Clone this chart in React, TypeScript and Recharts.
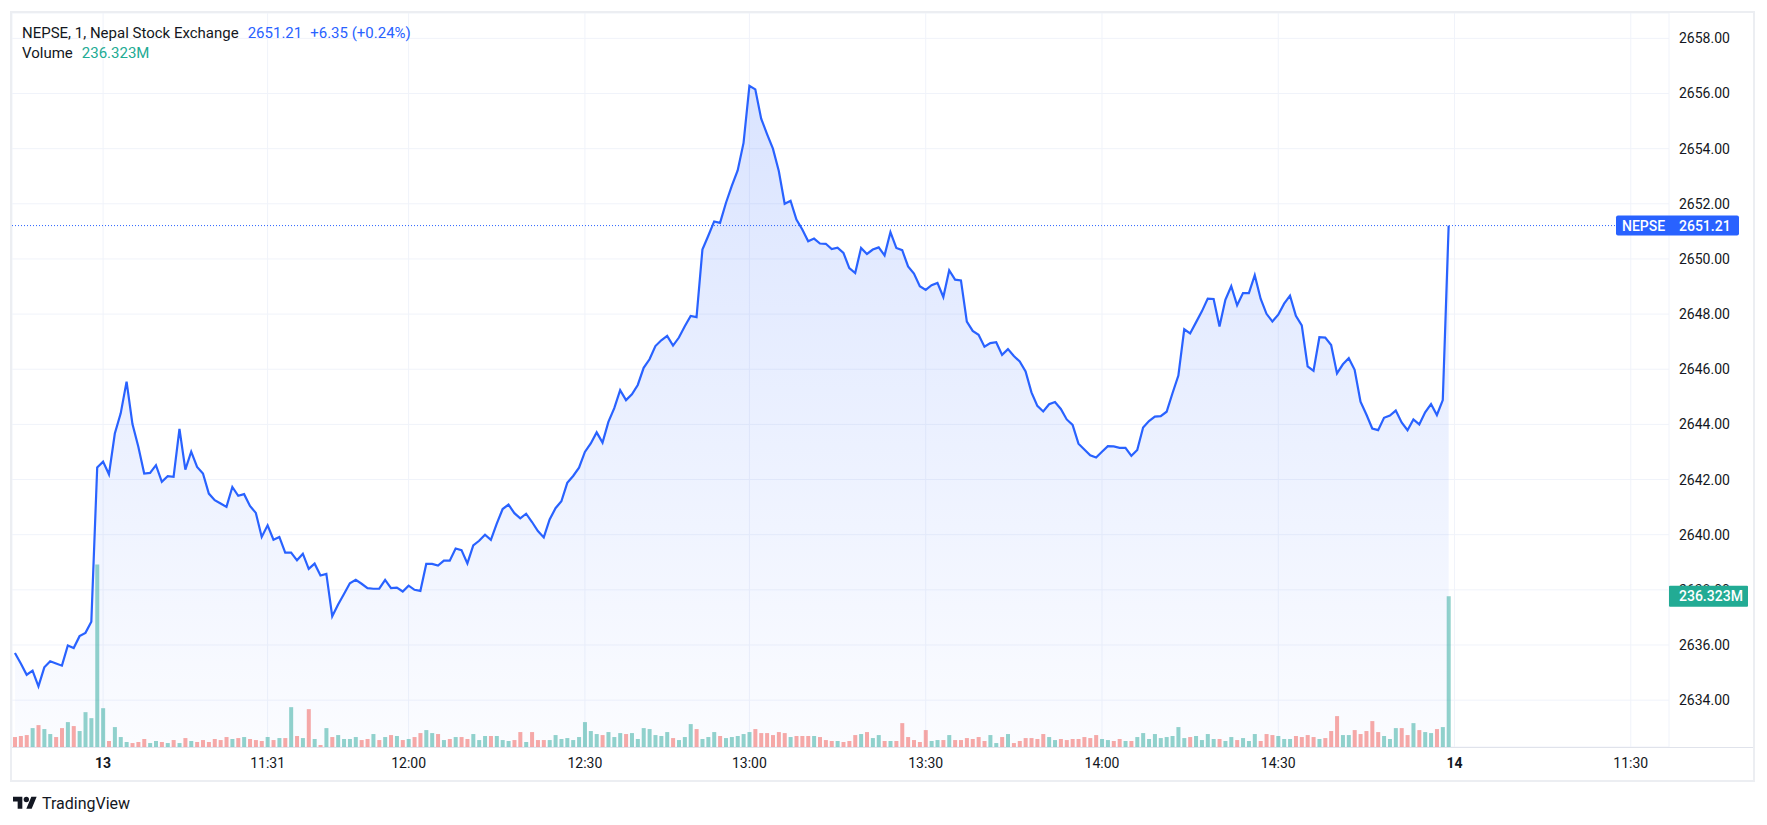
import {
  ComposedChart,
  Area,
  Bar,
  Cell,
  XAxis,
  YAxis,
  CartesianGrid,
  ReferenceLine,
} from "recharts";

// close price per 1-minute bar (last 15 bars of the 12th, then the 13th)
const prices = [
  2635.71, 2635.33, 2634.92, 2635.07, 2634.5, 2635.19, 2635.41, 2635.33, 2635.25, 2635.98,
  2635.89, 2636.32, 2636.44, 2636.84, 2642.44, 2642.65, 2642.19, 2643.67, 2644.4, 2645.55,
  2644.01, 2643.19, 2642.22, 2642.24, 2642.52, 2641.92, 2642.12, 2642.1, 2643.84, 2642.36,
  2643.01, 2642.46, 2642.22, 2641.49, 2641.25, 2641.13, 2641.01, 2641.73, 2641.41, 2641.47,
  2641.04, 2640.79, 2639.92, 2640.34, 2639.82, 2639.92, 2639.35, 2639.35, 2639.07, 2639.31,
  2638.76, 2638.95, 2638.52, 2638.58, 2637.04, 2637.47, 2637.85, 2638.24, 2638.36, 2638.22,
  2638.06, 2638.04, 2638.04, 2638.36, 2638.06, 2638.08, 2637.94, 2638.15, 2638.0, 2637.96,
  2638.94, 2638.94, 2638.88, 2639.06, 2639.06, 2639.5, 2639.44, 2638.96, 2639.61, 2639.78,
  2640.0, 2639.81, 2640.4, 2640.93, 2641.09, 2640.78, 2640.59, 2640.76, 2640.46, 2640.13,
  2639.9, 2640.55, 2640.96, 2641.21, 2641.88, 2642.13, 2642.43, 2643.0, 2643.31, 2643.71,
  2643.34, 2644.09, 2644.59, 2645.24, 2644.88, 2645.09, 2645.43, 2646.05, 2646.36, 2646.84,
  2647.05, 2647.21, 2646.86, 2647.15, 2647.56, 2647.93, 2647.89, 2650.34, 2650.84, 2651.36,
  2651.31, 2652.03, 2652.65, 2653.21, 2654.21, 2656.28, 2656.15, 2655.09, 2654.53, 2654.0,
  2653.19, 2652.0, 2652.11, 2651.43, 2651.07, 2650.64, 2650.74, 2650.56, 2650.55, 2650.36,
  2650.41, 2650.22, 2649.67, 2649.49, 2650.4, 2650.18, 2650.34, 2650.42, 2650.13, 2650.97,
  2650.4, 2650.32, 2649.73, 2649.47, 2649.01, 2648.88, 2649.05, 2649.13, 2648.62, 2649.59,
  2649.25, 2649.22, 2647.73, 2647.39, 2647.25, 2646.82, 2646.95, 2646.98, 2646.52, 2646.73,
  2646.48, 2646.28, 2645.92, 2645.16, 2644.67, 2644.47, 2644.73, 2644.81, 2644.56, 2644.18,
  2643.98, 2643.3, 2643.09, 2642.88, 2642.8, 2643.01, 2643.21, 2643.2, 2643.15, 2643.15,
  2642.86, 2643.07, 2643.89, 2644.12, 2644.28, 2644.3, 2644.46, 2645.13, 2645.77, 2647.45,
  2647.3, 2647.7, 2648.1, 2648.56, 2648.55, 2647.55, 2648.52, 2649.01, 2648.32, 2648.76,
  2648.76, 2649.41, 2648.56, 2648.01, 2647.73, 2647.98, 2648.38, 2648.67, 2647.94, 2647.59,
  2646.1, 2645.94, 2647.16, 2647.15, 2646.88, 2645.85, 2646.18, 2646.4, 2645.98, 2644.82,
  2644.36, 2643.85, 2643.79, 2644.24, 2644.32, 2644.5, 2644.07, 2643.79, 2644.18, 2644.0,
  2644.44, 2644.74, 2644.34, 2644.88, 2651.21,
];

// volume per bar, millions
const volumes = [
  15.6, 17.2, 18.7, 29.6, 34.3, 28.1, 20.3, 15.6, 29.6, 39.0,
  32.8, 25.0, 54.6, 45.2, 286.0, 60.8, 9.4, 31.2, 15.6, 7.8,
  6.2, 7.8, 12.5, 6.2, 9.4, 7.8, 6.2, 10.9, 6.2, 14.0,
  9.4, 7.8, 10.9, 7.8, 12.5, 10.9, 15.6, 12.5, 14.0, 15.6,
  12.5, 10.9, 9.4, 15.6, 10.9, 14.0, 14.0, 62.4, 17.2, 14.0,
  59.3, 12.5, 3.1, 29.6, 15.6, 18.7, 12.5, 12.5, 15.6, 10.9,
  12.5, 20.3, 10.9, 15.6, 18.7, 17.2, 10.9, 12.5, 15.6, 21.8,
  26.5, 21.8, 20.3, 10.9, 12.5, 15.6, 15.6, 12.5, 20.3, 10.9,
  17.2, 17.2, 17.2, 10.9, 9.4, 10.9, 23.4, 7.8, 23.4, 10.9,
  10.9, 10.9, 18.7, 12.5, 14.0, 10.9, 15.6, 39.0, 25.0, 20.3,
  18.7, 23.4, 15.6, 21.8, 20.3, 21.8, 12.5, 29.6, 28.1, 18.7,
  17.2, 23.4, 14.0, 10.9, 15.6, 35.9, 28.1, 12.5, 15.6, 23.4,
  17.2, 14.0, 15.6, 17.2, 20.3, 23.4, 28.1, 21.8, 21.8, 18.7,
  23.4, 21.8, 15.6, 17.2, 17.2, 17.2, 17.2, 15.6, 10.9, 9.4,
  9.4, 7.8, 9.4, 18.7, 20.3, 23.4, 14.0, 18.7, 9.4, 9.4,
  9.4, 37.4, 15.6, 10.9, 7.8, 26.5, 9.4, 10.9, 10.9, 18.7,
  10.9, 10.9, 14.0, 12.5, 15.6, 9.4, 18.7, 6.2, 15.6, 20.3,
  6.2, 9.4, 14.0, 14.0, 12.5, 20.3, 15.6, 10.9, 12.5, 10.9,
  12.5, 12.5, 15.6, 14.0, 18.7, 12.5, 10.9, 9.4, 12.5, 9.4,
  9.4, 15.6, 21.8, 12.5, 20.3, 14.0, 15.6, 17.2, 31.2, 14.0,
  15.6, 17.2, 10.9, 20.3, 12.5, 12.5, 9.4, 15.6, 10.9, 14.0,
  9.4, 20.3, 9.4, 20.3, 18.7, 17.2, 12.5, 12.5, 17.2, 15.6,
  18.7, 15.6, 12.5, 14.0, 25.0, 48.4, 18.7, 18.7, 26.5, 20.3,
  25.0, 40.6, 23.4, 17.2, 12.5, 29.6, 29.6, 18.7, 37.4, 26.5,
  23.4, 21.8, 28.1, 31.2, 236.323,
];

// g = up bar, r = down bar
const volumeSide = [
  "rrrgrggrrg", "rgggggrggg", "rrrggrgrgr", "grrrrrrgrg", "rrrgrgrgrg",
  "rgrgrggggr", "rgrgrgrgrr", "ggrgrgrrgg", "grgggrrgrr", "rggggggggg",
  "rgggrggggg", "ggrgggrggg", "rgggggrrrr", "rrgrrrgrrr", "grrrgrggrg",
  "rrrrrrggrg", "rrrrrrggrg", "rrrrrrggrr", "rrrrrggrrg", "rggggggggg",
  "rggggrggrg", "ggrrrgggrr", "rrgrrrggrr", "rrrgggrrgr", "ggrgg",
].join("");

const timeTicks = [15, 43, 67, 97, 125, 155, 185, 215, 245, 275];
const timeLabels = ["13", "11:31", "12:00", "12:30", "13:00", "13:30", "14:00", "14:30", "14", "11:30"];
const priceTicks = [2634, 2636, 2638, 2640, 2642, 2644, 2646, 2648, 2650, 2652, 2654, 2656, 2658];

const lastPrice = 2651.21;
const lastVolume = 236.323;

const data = prices.map((p, i) => ({
  i,
  price: p,
  volume: volumes[i],
  up: volumeSide[i] === "g",
}));

const FONT = "Roboto, 'Noto Sans', sans-serif";
const TEXT = "#131722";
const BLUE = "#2962ff";
const GREEN = "#22ab94";
const W = 1741;
const H = 767;
const X_DOMAIN: [number, number] = [-0.5, 281.5];
const PRICE_DOMAIN: [number, number] = [2632.3, 2658.92];
const VOL_DOMAIN: [number, number] = [0, 1150];

const TimeTick = (props: any) => {
  const { x, y, payload } = props;
  const label = timeLabels[timeTicks.indexOf(payload.value)];
  const isDay = label.length <= 2;
  return (
    <text
      x={x}
      y={y + 16}
      textAnchor="middle"
      dominantBaseline="central"
      fill={TEXT}
      fontSize={14}
      fontFamily={FONT}
      fontWeight={isDay ? 700 : 400}
    >
      {label}
    </text>
  );
};

const PriceTag = (props: any) => {
  const vb = props.viewBox;
  const right = vb.x + vb.width;
  return (
    <g>
      <rect x={right - 53} y={vb.y - 10} width={123} height={20} rx={2} fill={BLUE} />
      <text x={right - 47} y={vb.y} dominantBaseline="central" fill="#fff" fontSize={14} fontFamily={FONT} fontWeight={500}>
        NEPSE
      </text>
      <text x={right + 10} y={vb.y} dominantBaseline="central" fill="#fff" fontSize={14} fontFamily={FONT} fontWeight={500}>
        {lastPrice.toFixed(2)}
      </text>
    </g>
  );
};

const VolumeTag = (props: any) => {
  const vb = props.viewBox;
  const right = vb.x + vb.width;
  return (
    <g>
      <rect x={right} y={vb.y - 10.5} width={79} height={21} rx={1} fill={GREEN} />
      <text x={right + 10} y={vb.y} dominantBaseline="central" fill="#fff" fontSize={14} fontFamily={FONT} fontWeight={500}>
        {lastVolume.toFixed(3)}M
      </text>
    </g>
  );
};

export default function App() {
  return (
    <div style={{ position: "absolute", left: 0, top: 0, width: 1767, height: 825, background: "#fff", fontFamily: FONT }}>
      <div
        style={{
          position: "absolute",
          left: 10,
          top: 11,
          width: 1745,
          height: 771,
          border: "2px solid #eceef2",
          boxSizing: "border-box",
        }}
      >
        <ComposedChart width={W} height={H} data={data} margin={{ top: 0, right: 0, bottom: 0, left: 0 }}>
          <defs>
            <linearGradient id="areaFill" x1="0" y1="0" x2="0" y2="1">
              <stop offset="0%" stopColor={BLUE} stopOpacity={0.29} />
              <stop offset="100%" stopColor={BLUE} stopOpacity={0.03} />
            </linearGradient>
          </defs>
          <CartesianGrid yAxisId="price" stroke="#f0f3fa" strokeWidth={1} />
          <XAxis
            dataKey="i"
            type="number"
            domain={X_DOMAIN}
            ticks={timeTicks}
            interval={0}
            height={33}
            axisLine={false}
            tickLine={false}
            tickSize={0}
            tickMargin={0}
            tick={<TimeTick />}
            allowDataOverflow
          />
          <YAxis
            yAxisId="price"
            orientation="right"
            width={84}
            domain={PRICE_DOMAIN}
            ticks={priceTicks}
            interval={0}
            axisLine={false}
            tickLine={false}
            tickSize={0}
            tickMargin={10}
            tickFormatter={(v: number) => v.toFixed(2)}
            tick={{ fill: TEXT, fontSize: 14, fontFamily: FONT }}
            allowDataOverflow
          />
          <YAxis yAxisId="vol" hide domain={VOL_DOMAIN} allowDataOverflow />
          <Bar yAxisId="vol" dataKey="volume" barSize={4} isAnimationActive={false}>
            {data.map((d) => (
              <Cell key={d.i} fill={d.up ? "rgba(38,166,154,0.5)" : "rgba(239,83,80,0.5)"} />
            ))}
          </Bar>
          <Area
            yAxisId="price"
            dataKey="price"
            type="linear"
            stroke={BLUE}
            strokeWidth={2.2}
            fill="url(#areaFill)"
            dot={false}
            activeDot={false}
            isAnimationActive={false}
          />
          <ReferenceLine yAxisId="price" y={lastPrice} stroke={BLUE} strokeDasharray="1 2" />
        </ComposedChart>

        {/* overlay chart with same scales so the last-value tags sit above the axis labels */}
        <div style={{ position: "absolute", left: 0, top: 0, pointerEvents: "none" }}>
          <ComposedChart width={W} height={H} data={data} margin={{ top: 0, right: 84, bottom: 33, left: 0 }}>
            <XAxis dataKey="i" type="number" domain={X_DOMAIN} hide allowDataOverflow />
            <YAxis yAxisId="price" hide domain={PRICE_DOMAIN} allowDataOverflow />
            <YAxis yAxisId="vol" hide domain={VOL_DOMAIN} allowDataOverflow />
            <ReferenceLine
              yAxisId="price"
              y={lastPrice}
              stroke="none"
              ifOverflow="visible"
              label={(p: any) => <PriceTag viewBox={p.viewBox} />}
            />
            <ReferenceLine
              yAxisId="vol"
              y={lastVolume}
              stroke="none"
              ifOverflow="visible"
              label={(p: any) => <VolumeTag viewBox={p.viewBox} />}
            />
          </ComposedChart>
        </div>

        {/* time axis rule across plot and price scale */}
        <div style={{ position: "absolute", left: 0, top: 734, width: "100%", height: 1, background: "#e0e3eb" }} />

        <div style={{ position: "absolute", left: 10, top: 10, lineHeight: "20px", fontSize: 15, color: TEXT, whiteSpace: "nowrap" }}>
          NEPSE, 1, Nepal Stock Exchange
          <span style={{ color: BLUE, marginLeft: 9 }}>2651.21</span>
          <span style={{ color: BLUE, marginLeft: 8 }}>+6.35 (+0.24%)</span>
        </div>
        <div style={{ position: "absolute", left: 10, top: 30, lineHeight: "20px", fontSize: 15, color: TEXT, whiteSpace: "nowrap" }}>
          Volume
          <span style={{ color: GREEN, marginLeft: 9 }}>236.323M</span>
        </div>
      </div>

      <div style={{ position: "absolute", left: 13, top: 794, display: "flex", alignItems: "center", color: TEXT }}>
        <svg width={24} height={19} viewBox="0 0 36 28">
          <path d="M14 22H7V11H0V4h14v18zM28 22h-8l7.5-18h8L28 22z" fill={TEXT} />
          <circle cx={20} cy={8} r={4} fill={TEXT} />
        </svg>
        <span style={{ marginLeft: 5, fontSize: 16, lineHeight: "19px" }}>TradingView</span>
      </div>
    </div>
  );
}
